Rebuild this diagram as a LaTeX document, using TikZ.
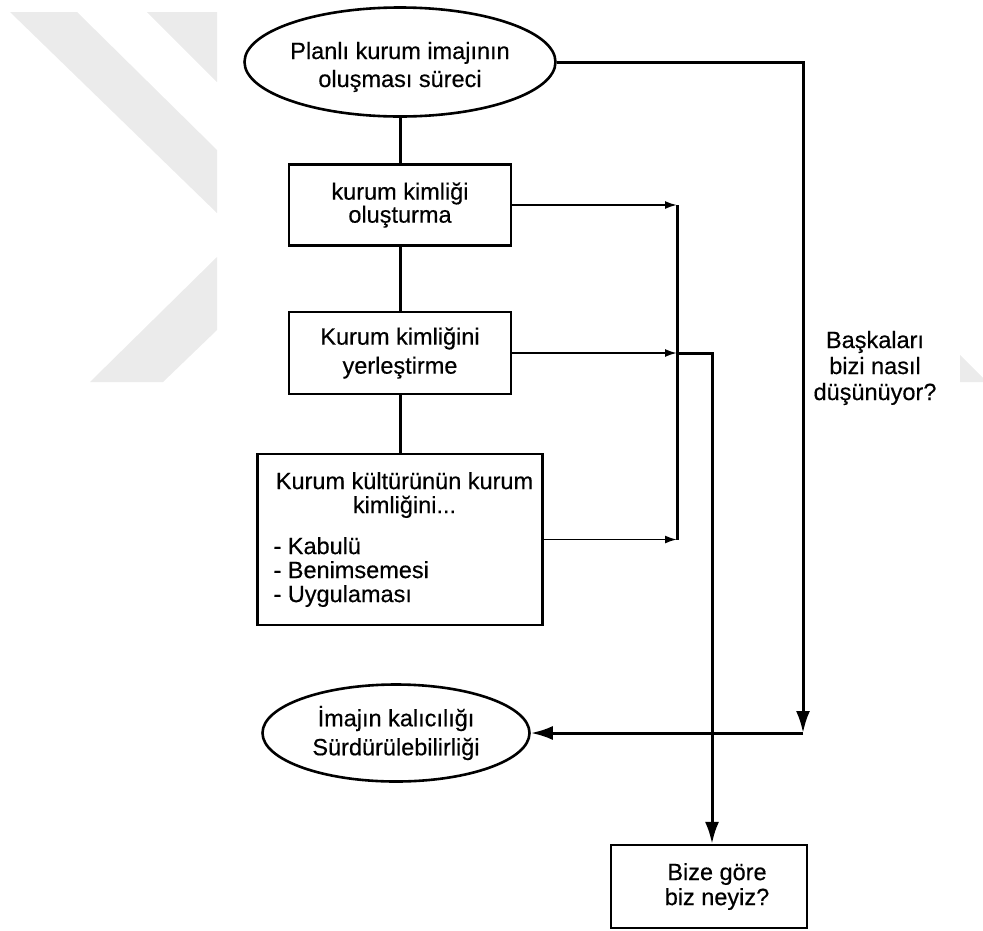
\documentclass[tikz,border=0pt]{standalone}
\usepackage{fontspec}
\setmainfont{Liberation Sans}[FakeBold=0.4]
\usetikzlibrary{shapes.geometric,arrows.meta}

\begin{document}
\begin{tikzpicture}[x=1pt,y=-1pt,
  every node/.style={font=\fontsize{23.5}{28}\selectfont},
  oval/.style={draw,ellipse,line width=2.6pt,inner sep=0pt,align=center},
  stepbox/.style={draw,rectangle,line width=2.2pt,inner sep=0pt,align=center},
  link/.style={line width=3pt},
  feed/.style={line width=1.8pt,-{Latex[length=12pt,width=8pt]}},
  bigarrow/.style={line width=3pt,-{Latex[length=22pt,width=14pt]}}]
\useasboundingbox (0,0) rectangle (983,930);
% faded watermark behind the chart
\fill[black!8] (10,12) -- (77,12) -- (217,150) -- (217,213) -- cycle;
\fill[black!8] (147,12) -- (217,12) -- (217,82) -- cycle;
\fill[black!8] (217,257) -- (217,330) -- (163,382) -- (90,382) -- cycle;
\fill[black!8] (960,355) -- (983,378) -- (983,382) -- (960,382) -- cycle;

% main column
\node[oval,minimum width=311pt,minimum height=109pt] (plan) at (400,62)
  {\rule{0pt}{27pt}Planlı kurum imajının\\oluşması süreci};
\node[stepbox,minimum width=222pt,minimum height=81pt,
  font=\fontsize{23.5}{23}\selectfont] (kimlik) at (400,205)
  {kurum kimliği\\oluşturma};
\node[stepbox,minimum width=222pt,minimum height=82pt,
  font=\fontsize{23.5}{29}\selectfont] (yerles) at (400,353)
  {Kurum kimliğini\\yerleştirme};
\node[stepbox,minimum width=285pt,minimum height=171pt,
  font=\fontsize{23.5}{24}\selectfont] (kultur) at (400,539.5)
  {\hspace{9pt}\begin{minipage}{262pt}\centering
   Kurum kültürünün kurum\\kimliğini...\par\vspace{17pt}\raggedright
   - Kabulü\\- Benimsemesi\\- Uygulaması\end{minipage}};
\node[oval,minimum width=267pt,minimum height=97pt,
  font=\fontsize{23.5}{29}\selectfont] (keep) at (396,733)
  {İmajın kalıcılığı\\Sürdürülebilirliği};
\node[stepbox,minimum width=196pt,minimum height=83pt,
  font=\fontsize{23.5}{25}\selectfont] (bize) at (709,886.5)
  {\hspace*{16pt}Bize göre\\\hspace*{16pt}biz neyiz?};
\node[align=center,font=\fontsize{23.5}{26}\selectfont] (others) at (875,368)
  {Başkaları\\bizi nasıl\\düşünüyor?};

\coordinate (bus) at (677,0);  % collecting line
\coordinate (drop) at (712,0);
\coordinate (turn) at (803,733);

\draw[link] (plan) -- (kimlik);
\draw[link] (kimlik) -- (yerles);
\draw[link] (yerles) -- (kultur);
\draw[feed] (kimlik.east) -- (kimlik.east -| bus);
\draw[feed] (yerles.east) -- (yerles.east -| bus);
\draw[feed] (kultur.east) -- (kultur.east -| bus);
\draw[link] (kimlik.east -| bus) -- (kultur.east -| bus);
\draw[bigarrow] (yerles.east -| bus) -- (yerles.east -| drop) -- (drop |- bize.north);
\draw[bigarrow] (plan.east) -| (turn);
\draw[bigarrow] (turn) -- (keep.east);
\end{tikzpicture}
\end{document}
